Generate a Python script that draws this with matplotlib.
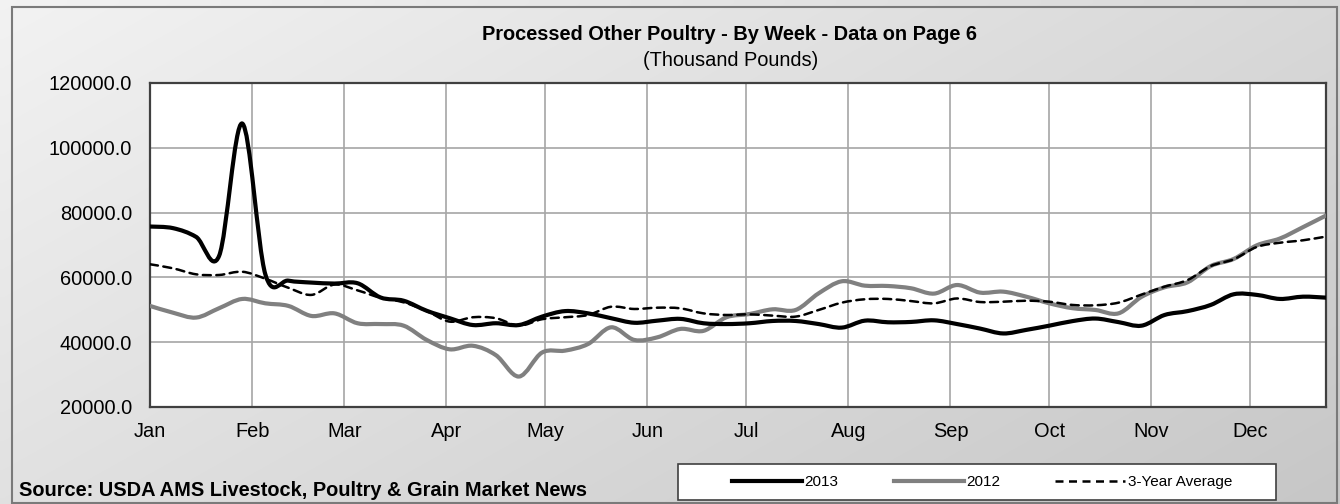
import numpy as np
import matplotlib
matplotlib.use("Agg")
import matplotlib.pyplot as plt
from matplotlib.path import Path
from matplotlib.patches import PathPatch, Rectangle
from matplotlib.lines import Line2D

plt.rcParams['font.family'] = ['Liberation Sans', 'DejaVu Sans']

# ---- data (weekly values, thousand pounds) ----
week_days = [7 * i for i in range(52)]
months = ["Jan", "Feb", "Mar", "Apr", "May", "Jun", "Jul", "Aug", "Sep", "Oct", "Nov", "Dec"]
month_start_days = [0, 31, 59, 90, 120, 151, 181, 212, 243, 273, 304, 334]
y_ticks = [20000, 40000, 60000, 80000, 100000, 120000]

series_2013 = [75700, 75200, 72500, 66700, 107500, 61000, 59000, 58400, 58100, 58200,
               53800, 52800, 49700, 47400, 45300, 45850, 45300, 47900, 49600, 48900,
               47400, 46000, 46650, 47200, 45850, 45600, 45850, 46550, 46550, 45600,
               44500, 46650, 46150, 46250, 46750, 45600, 44200, 42700, 43800, 45100,
               46500, 47300, 46200, 45100, 48400, 49600, 51500, 54800, 54600, 53350,
               54050, 53750]
series_2012 = [51200, 49100, 47600, 50500, 53350, 52000, 51200, 48100, 48900, 45850,
               45600, 45100, 40700, 37800, 38900, 36000, 29400, 36800, 37400, 39450,
               44600, 40700, 41500, 44100, 43500, 47700, 48700, 50150, 49950, 55100,
               58800, 57450, 57350, 56650, 55000, 57650, 55300, 55600, 54050, 52000,
               50500, 49950, 48900, 54000, 56950, 58500, 63500, 65700, 69900, 72000,
               75500, 79100]
series_avg = [64050, 62800, 60950, 60750, 61750, 59600, 56800, 54600, 57800, 56000,
              53700, 52300, 49600, 46350, 47700, 47400, 45100, 47100, 47700, 48400,
              50950, 50250, 50650, 50450, 48900, 48400, 48600, 48200, 47900, 49950,
              52200, 53250, 53350, 52700, 52000, 53500, 52400, 52500, 52800, 52500,
              51500, 51400, 52200, 54700, 57150, 59200, 63500, 65600, 69400, 70700,
              71450, 72600]

W, H = 1340, 504
fig = plt.figure(figsize=(W / 100, H / 100), dpi=100)

# gradient background
bg = fig.add_axes([0, 0, 1, 1], zorder=-10)
gx = np.linspace(0, 1, 200)
gy = np.linspace(0, 1, 80)
GX, GY = np.meshgrid(gx, gy)
grad = 0.95 - 0.17 * (0.6 * GX + 0.4 * GY)
bg.imshow(np.dstack([grad, grad, grad]), aspect='auto', extent=[0, 1, 0, 1],
          origin='upper', interpolation='bilinear')
bg.set_axis_off()
fig.patches.append(Rectangle((12 / W, 1 / H), (1337 - 12) / W, (496) / H,
                             transform=fig.transFigure, fill=False,
                             edgecolor='#7a7a7a', linewidth=1.5))

left, right, top, bottom = 150, 1326, 83, 407
ax = fig.add_axes([left / W, 1 - bottom / H, (right - left) / W, (bottom - top) / H])
ax.set_facecolor('white')
ax.set_xlim(0, 357)
ax.set_ylim(20000, 120000)
ax.set_xticks(month_start_days)
ax.set_xticklabels(months)
ax.set_yticks(y_ticks)
ax.set_yticklabels([f"{v:.1f}" for v in y_ticks])
ax.tick_params(axis='both', length=0, labelsize=14.4, colors='black')
ax.tick_params(axis='y', pad=13)
ax.tick_params(axis='x', pad=11)
ax.grid(True, color='#a6a6a6', linewidth=1.2)
ax.set_axisbelow(True)
for s in ax.spines.values():
    s.set_color('#404040')
    s.set_linewidth(1.6)


def smooth_path(xs, ys):
    pts = np.column_stack([xs, ys]).astype(float)
    n = len(pts)
    verts = [pts[0]]
    codes = [Path.MOVETO]
    for i in range(n - 1):
        p0 = pts[i - 1] if i > 0 else pts[i]
        p1 = pts[i]
        p2 = pts[i + 1]
        p3 = pts[i + 2] if i + 2 < n else pts[i + 1]
        c1 = p1 + (p2 - p0) / 6.0
        c2 = p2 - (p3 - p1) / 6.0
        verts += [c1, c2, p2]
        codes += [Path.CURVE4] * 3
    return Path(verts, codes)


styles = [
    (series_2012, dict(edgecolor='#808080', linewidth=3.0, linestyle='-')),
    (series_avg, dict(edgecolor='black', linewidth=1.8, linestyle=(0, (3.2, 2.2)))),
    (series_2013, dict(edgecolor='black', linewidth=3.0, linestyle='-')),
]
for vals, st in styles:
    patch = PathPatch(smooth_path(week_days, vals), fill=False, capstyle='round',
                      joinstyle='round', zorder=3, **st)
    ax.add_patch(patch)

# titles
fig.text(730 / W, 1 - 35 / H, "Processed Other Poultry - By Week - Data on Page 6",
         ha='center', va='center', fontsize=14.4, fontweight='bold')
fig.text(731 / W, 1 - 60 / H, "(Thousand Pounds)", ha='center', va='center', fontsize=14.4)
fig.text(19 / W, 1 - 491 / H, "Source: USDA AMS Livestock, Poultry & Grain Market News",
         ha='left', va='center', fontsize=14.4, fontweight='bold')

# legend
fig.patches.append(Rectangle((678 / W, 1 - 500 / H), (1276 - 678) / W, 36 / H,
                             transform=fig.transFigure, facecolor='white',
                             edgecolor='#404040', linewidth=1.2, zorder=1))
handles = [
    Line2D([], [], color='black', linewidth=3.0),
    Line2D([], [], color='#808080', linewidth=3.0),
    Line2D([], [], color='black', linewidth=1.8, linestyle=(0, (3.2, 2.2))),
]
leg = fig.legend(handles, ["2013", "2012", "3-Year Average"], loc='center',
                 bbox_to_anchor=(982 / W, 1 - 482 / H), ncol=3, frameon=False,
                 fontsize=11, handlelength=4.6, handletextpad=0.15,
                 columnspacing=3.6)
leg.set_zorder(5)

fig.savefig("out.png", dpi=100)
